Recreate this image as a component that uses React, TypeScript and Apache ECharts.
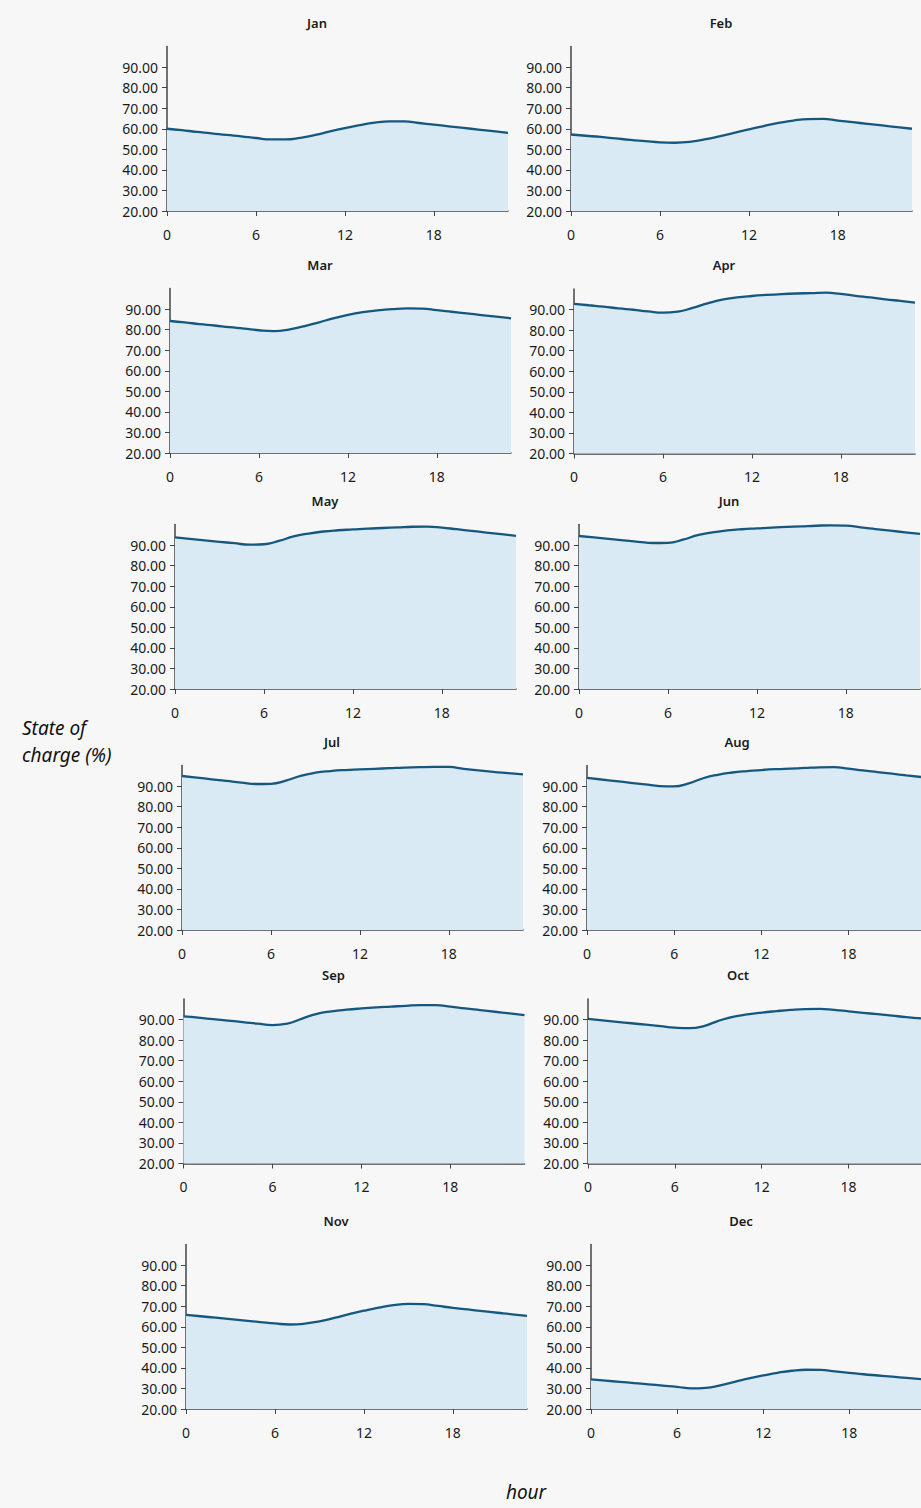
import React, { useEffect, useRef } from "react";
import * as echarts from "echarts";

// ---------- data ----------
const MONTHS = ["Jan", "Feb", "Mar", "Apr", "May", "Jun", "Jul", "Aug", "Sep", "Oct", "Nov", "Dec"];
const HOURS = [0, 1, 2, 3, 4, 5, 6, 7, 8, 9, 10, 11, 12, 13, 14, 15, 16, 17, 18, 19, 20, 21, 22, 23];
const X_TICKS = [0, 6, 12, 18];
const Y_TICKS = [20, 30, 40, 50, 60, 70, 80, 90];

const JAN = [60.0, 59.3, 58.5, 57.8, 57.0, 56.3, 55.5, 54.8, 54.8, 55.6, 57.0, 58.7, 60.3, 61.8, 63.0, 63.6, 63.6, 62.8, 62.0, 61.2, 60.4, 59.6, 58.8, 58.0];
const FEB = [57.2, 56.6, 56.0, 55.3, 54.6, 54.0, 53.4, 53.2, 53.6, 54.8, 56.3, 58.0, 59.7, 61.3, 62.8, 64.0, 64.7, 64.8, 64.0, 63.2, 62.4, 61.6, 60.8, 60.0];
const MAR = [84.2, 83.5, 82.7, 82.0, 81.2, 80.5, 79.7, 79.3, 80.0, 81.6, 83.4, 85.5, 87.2, 88.5, 89.4, 90.0, 90.3, 90.2, 89.5, 88.7, 87.9, 87.1, 86.3, 85.5];
const APR = [92.8, 92.1, 91.4, 90.6, 89.9, 89.1, 88.5, 89.0, 90.8, 93.0, 94.8, 95.9, 96.6, 97.1, 97.5, 97.8, 98.0, 98.2, 97.6, 96.7, 95.9, 95.0, 94.2, 93.4];
const MAY = [93.7, 93.0, 92.3, 91.6, 90.9, 90.2, 90.4, 92.0, 94.2, 95.6, 96.6, 97.2, 97.6, 98.0, 98.3, 98.6, 98.9, 99.0, 98.5, 97.7, 96.9, 96.1, 95.3, 94.5];
const JUN = [94.4, 93.7, 93.0, 92.3, 91.6, 91.0, 91.1, 92.6, 94.8, 96.2, 97.1, 97.7, 98.1, 98.5, 98.8, 99.1, 99.4, 99.6, 99.5, 98.6, 97.8, 97.0, 96.2, 95.4];
const JUL = [94.9, 94.1, 93.3, 92.5, 91.7, 91.0, 91.1, 92.6, 95.0, 96.5, 97.3, 97.8, 98.1, 98.4, 98.7, 99.0, 99.2, 99.3, 99.3, 98.4, 97.6, 96.9, 96.3, 95.7];
const AUG = [94.0, 93.2, 92.4, 91.6, 90.8, 90.0, 89.8, 91.3, 93.8, 95.5, 96.6, 97.3, 97.8, 98.2, 98.5, 98.8, 99.1, 99.2, 98.5, 97.6, 96.8, 96.0, 95.2, 94.4];
const SEP = [91.5, 90.9, 90.2, 89.5, 88.8, 88.0, 87.3, 88.0, 90.5, 92.8, 94.0, 94.8, 95.4, 95.9, 96.3, 96.7, 97.0, 97.0, 96.3, 95.4, 94.6, 93.8, 93.0, 92.2];
const OCT = [90.3, 89.6, 88.9, 88.2, 87.5, 86.8, 86.1, 85.8, 86.8, 89.4, 91.3, 92.5, 93.4, 94.1, 94.7, 95.1, 95.2, 94.7, 94.0, 93.3, 92.6, 91.9, 91.2, 90.6];
const NOV = [65.8, 65.1, 64.4, 63.7, 63.0, 62.3, 61.6, 61.1, 61.5, 62.6, 64.3, 66.1, 67.8, 69.3, 70.5, 71.1, 71.0, 70.1, 69.2, 68.4, 67.6, 66.8, 66.0, 65.3];
const DEC = [34.4, 33.8, 33.2, 32.6, 32.0, 31.4, 30.8, 30.0, 30.3, 31.5, 33.2, 34.9, 36.3, 37.6, 38.6, 39.1, 39.0, 38.3, 37.6, 36.9, 36.3, 35.7, 35.1, 34.5];

const SERIES_VALUES = [JAN, FEB, MAR, APR, MAY, JUN, JUL, AUG, SEP, OCT, NOV, DEC];

const Y_LABEL = ["State of", "charge (%)"];
const X_LABEL = "hour";

// ---------- layout ----------
const PANEL_LEFT = [167, 571, 170, 574, 175, 579, 182, 587, 183.5, 588, 186, 591];
const PANEL_TOP = [46.5, 46.5, 288.5, 289, 524.5, 524.5, 765.5, 765.5, 999, 999, 1244.5, 1244.5];
const PLOT_W = 341;
const PLOT_H = 164.5;

const LINE_COLOR = "#16577f";
const FILL_COLOR = "#d9eaf4";
const AXIS_COLOR = "#444444";
const TEXT_COLOR = "#1a1a1a";
const BG = "#f7f7f7";
const FONT = "'Noto Sans', 'Open Sans', sans-serif";

export default function App() {
  const ref = useRef<HTMLDivElement>(null);

  useEffect(() => {
    if (!ref.current) return;
    const chart = echarts.init(ref.current, undefined, { renderer: "svg" });

    const grids = MONTHS.map((_, i) => ({
      left: PANEL_LEFT[i],
      top: PANEL_TOP[i],
      width: PLOT_W,
      height: PLOT_H,
      containLabel: false,
    }));

    const xAxes = MONTHS.map((_, i) => ({
      type: "value",
      gridIndex: i,
      min: 0,
      max: 23,
      interval: 6,
      axisLine: { show: true, onZero: false, lineStyle: { color: AXIS_COLOR, width: 1.5 } },
      axisTick: { show: true, length: 5, inside: false, customValues: X_TICKS, lineStyle: { color: AXIS_COLOR, width: 1 } },
      axisLabel: {
        show: true,
        customValues: X_TICKS,
        margin: 16,
        fontSize: 14,
        fontFamily: FONT,
        color: TEXT_COLOR,
        formatter: (v: number) => (v > 18 ? "" : String(v)),
      },
      splitLine: { show: false },
    }));

    const yAxes = MONTHS.map((_, i) => ({
      type: "value",
      gridIndex: i,
      min: 20,
      max: 100,
      interval: 10,
      axisLine: { show: true, lineStyle: { color: AXIS_COLOR, width: 1.5 } },
      axisTick: { show: true, length: 5, inside: false, customValues: Y_TICKS, lineStyle: { color: AXIS_COLOR, width: 1 } },
      axisLabel: {
        show: true,
        customValues: Y_TICKS,
        margin: 9,
        fontSize: 14,
        fontFamily: FONT,
        color: TEXT_COLOR,
        formatter: (v: number) => (v >= 100 ? "" : v.toFixed(2)),
      },
      splitLine: { show: false },
    }));

    const series = MONTHS.map((m, i) => ({
      name: m,
      type: "line",
      xAxisIndex: i,
      yAxisIndex: i,
      data: HOURS.map((h, k) => [h, SERIES_VALUES[i][k]]),
      smooth: 0.5,
      symbol: "none",
      lineStyle: { color: LINE_COLOR, width: 2.3 },
      areaStyle: { color: FILL_COLOR, opacity: 1, origin: "start" },
      z: 2,
    }));

    const graphics: any[] = MONTHS.map((m, i) => ({
      type: "text",
      x: PANEL_LEFT[i] + 150,
      y: PANEL_TOP[i] - 24,
      style: {
        text: m,
        fill: TEXT_COLOR,
        font: `600 13px ${FONT}`,
        textAlign: "center",
        textVerticalAlign: "middle",
      },
    }));

    graphics.push({
      type: "text",
      x: 22,
      y: 728,
      style: {
        text: Y_LABEL[0],
        fill: "#111",
        font: `italic 19px ${FONT}`,
        textAlign: "left",
        textVerticalAlign: "middle",
      },
    });
    graphics.push({
      type: "text",
      x: 22,
      y: 755,
      style: {
        text: Y_LABEL[1],
        fill: "#111",
        font: `italic 19px ${FONT}`,
        textAlign: "left",
        textVerticalAlign: "middle",
      },
    });
    graphics.push({
      type: "text",
      x: 526,
      y: 1492,
      style: {
        text: X_LABEL,
        fill: "#111",
        font: `italic 19px ${FONT}`,
        textAlign: "center",
        textVerticalAlign: "middle",
      },
    });

    chart.setOption({
      animation: false,
      backgroundColor: BG,
      grid: grids,
      xAxis: xAxes,
      yAxis: yAxes,
      series,
      graphic: graphics,
    } as any);

    return () => {
      chart.dispose();
    };
  }, []);

  return (
    <div
      ref={ref}
      style={{ position: "fixed", left: 0, top: 0, width: 921, height: 1508, background: BG }}
    />
  );
}
